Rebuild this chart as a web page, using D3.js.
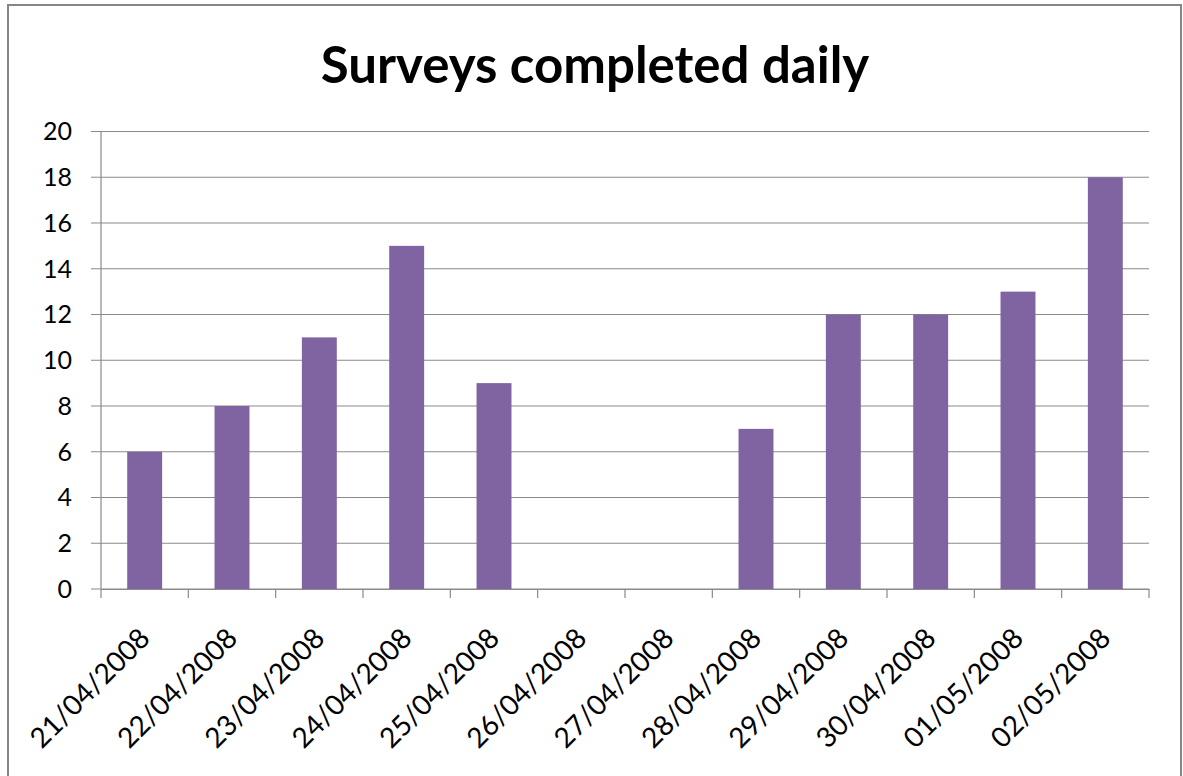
<!DOCTYPE html>
<html>
<head>
<meta charset="utf-8">
<script src="https://cdn.jsdelivr.net/npm/d3@7"></script>
<style>
  body { margin: 0; background: #fff; }
  text { font-family: Lato, "Open Sans", sans-serif; }
</style>
</head>
<body>
<svg id="chart" width="1183" height="776"></svg>
<script>
var dates = ["21/04/2008", "22/04/2008", "23/04/2008", "24/04/2008", "25/04/2008", "26/04/2008",
             "27/04/2008", "28/04/2008", "29/04/2008", "30/04/2008", "01/05/2008", "02/05/2008"];
var surveys = [6, 8, 11, 15, 9, 0, 0, 7, 12, 12, 13, 18];
var yTicks = [0, 2, 4, 6, 8, 10, 12, 14, 16, 18, 20];

var svg = d3.select("#chart");

// frame
svg.append("rect")
  .attr("x", 8).attr("y", 5).attr("width", 1173).attr("height", 775)
  .attr("fill", "#fff").attr("stroke", "#868686").attr("stroke-width", 2);

svg.append("text")
  .attr("x", 595).attr("y", 83)
  .attr("text-anchor", "middle")
  .style("font-size", "51px").style("font-weight", "bold")
  .text("Surveys completed daily");

var plotL = 101, plotR = 1149, plotT = 131.5, plotB = 589;

var x = d3.scaleBand().domain(dates).range([plotL, plotR]);
var y = d3.scaleLinear().domain([0, 20]).range([plotB, plotT]);

// gridlines
svg.append("g").selectAll("line")
  .data(yTicks)
  .enter()
  .append("line")
  .attr("x1", plotL - 10).attr("x2", plotR)
  .attr("y1", function(d){ return y(d); })
  .attr("y2", function(d){ return y(d); })
  .attr("stroke", "#8a8a8a").attr("stroke-width", 1.2);

// y labels
svg.append("g").selectAll("text")
  .data(yTicks)
  .enter()
  .append("text")
  .attr("x", 72)
  .attr("y", function(d){ return y(d); })
  .attr("dy", "0.35em")
  .attr("text-anchor", "end")
  .style("font-size", "25px")
  .attr("fill", "#000")
  .text(function(d){ return d; });

// bars
var barW = x.bandwidth() * 0.4;
svg.append("g").selectAll("rect")
  .data(surveys)
  .enter()
  .append("rect")
  .attr("x", function(d, i){ return x(dates[i]) + x.bandwidth() / 2 - barW / 2; })
  .attr("y", function(d){ return y(d); })
  .attr("width", barW)
  .attr("height", function(d){ return y(0) - y(d); })
  .attr("fill", "#8064a2");

// axes lines
svg.append("line")
  .attr("x1", plotL).attr("x2", plotL).attr("y1", plotT).attr("y2", plotB)
  .attr("stroke", "#8a8a8a").attr("stroke-width", 1.2);

var xAxis = d3.axisBottom(x).tickSize(0).tickFormat("");
svg.append("g")
  .attr("transform", "translate(0," + plotB + ")")
  .call(xAxis)
  .select(".domain").attr("stroke", "#8a8a8a").attr("stroke-width", 1.2);

// category boundary ticks
var bounds = dates.map(function(d){ return x(d); }).concat([plotR]);
svg.append("g").selectAll("line")
  .data(bounds)
  .enter()
  .append("line")
  .attr("x1", function(d){ return d; }).attr("x2", function(d){ return d; })
  .attr("y1", plotB).attr("y2", plotB + 9)
  .attr("stroke", "#8a8a8a").attr("stroke-width", 1.2);

// x labels
svg.append("g").selectAll("text")
  .data(dates)
  .enter()
  .append("text")
  .attr("transform", function(d){
    return "translate(" + (x(d) + x.bandwidth() / 2 + 0) + "," + (plotB + 44) + ") rotate(-45)";
  })
  .attr("text-anchor", "end")
  .attr("dy", "0.35em")
  .style("font-size", "28px")
  .text(function(d){ return d; });
</script>
</body>
</html>
